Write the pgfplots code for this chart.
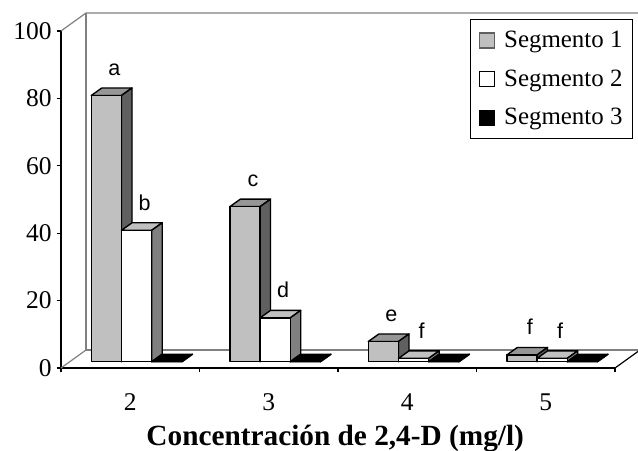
\documentclass[border=0pt]{standalone}
\usepackage{fontspec}
\setmainfont{Liberation Serif}
\newfontfamily\arialf{Liberation Sans}
\usepackage{pgfplots}
\usepackage{pgfplotstable}
\pgfplotsset{compat=1.18}

\definecolor{sAfront}{HTML}{C0C0C0}
\definecolor{sAtop}{HTML}{969696}
\definecolor{sAside}{HTML}{606060}
\definecolor{sBfront}{HTML}{FFFFFF}
\definecolor{sBtop}{HTML}{C0C0C0}
\definecolor{sBside}{HTML}{808080}
\definecolor{wallgray}{HTML}{808080}

\pgfplotstableread{
x  s1 s2 s3 l1 l2
2  79 39 0  a  b
3  46 13 0  c  d
4  6  1  0  e  f
5  2  1  0  f  f
}\datatable

% each bar: front face top sits 3.15bp above the data point (the bars stand
% 1.87 units behind the front plane); the bottom is taken from (zero)
\pgfplotsset{
  bar3d/.style n args={3}{% front, top, side
    only marks, scatter, forget plot,
    mark=*, mark size=0pt, mark options={draw=none,fill=none},
    scatter/@pre marker code/.code={%
      \filldraw[fill=#2,draw=black,line width=0.7bp,line join=round] (-7.55bp,3.15bp) -- (7.55bp,3.15bp) -- (12.8bp,6.9bp) -- (-2.3bp,6.9bp) -- cycle;
      \filldraw[fill=#3,draw=black,line width=0.7bp,line join=round] (7.55bp,3.15bp) -- (7.55bp,0bp |- zero) -- ++(5.25bp,3.75bp) -- (12.8bp,6.9bp) -- cycle;
      \filldraw[fill=#1,draw=black,line width=0.7bp,line join=round] (-7.55bp,0bp |- zero) rectangle (7.55bp,3.15bp);
    },
    scatter/@post marker code/.code={},
  },
  barlabel/.style={
    point meta=explicit symbolic,
    scatter/@post marker code/.code={%
      \node[font=\arialf\fontsize{10.8}{12}\selectfont, anchor=base, inner sep=0pt] at (4bp,13.15bp) {\pgfplotspointmeta};
    },
  },
}

\begin{document}
\begin{tikzpicture}
\begin{axis}[
  scale only axis, width=277bp, height=168.5bp,
  xmin=1.5, xmax=5.5, ymin=0, ymax=100,
  enlargelimits=false, clip=false,
  axis x line*=bottom, axis y line*=left,
  axis line style={-, black, line width=0.6bp},
  xtick={2,3,4,5},
  minor xtick={1.5,2.5,3.5,4.5,5.5},
  major x tick style={draw=none},
  minor x tick style={black, line width=0.6bp},
  ytick={0,20,40,60,80,100},
  ytick style={black, line width=0.6bp},
  tick align=outside,
  major tick length=2.2bp, minor tick length=2.2bp,
  tick label style={font=\fontsize{12.8}{14}\selectfont},
  xticklabel style={yshift=-7bp},
  yticklabel style={xshift=1bp},
  /pgf/number format/assume math mode=true,
  xlabel={Concentración de 2,4-D (mg/l)},
  xlabel style={at={(axis description cs:0.495,-0.23)}, anchor=base, font=\fontsize{14.7}{16}\selectfont\bfseries},
  legend style={at={(axis description cs:0.7377,1.0347)}, anchor=north west, draw=black, line width=0.5bp,
    font=\fontsize{12.5}{14}\selectfont, inner xsep=3bp, inner ysep=3.5bp, row sep=5.65bp},
  legend cell align=left,
]
% back wall and floor
\draw[wallgray, line width=0.6bp] (axis cs:1.5,100) -- (axis cs:1.6805,105.341) -- (axis cs:5.6661,105.341);
\draw[wallgray, line width=0.6bp] (axis cs:1.6805,105.341) -- (axis cs:1.6805,5.341) -- (axis cs:5.6661,5.341);
\draw[wallgray, line width=0.6bp] (axis cs:1.5,0) -- (axis cs:1.6805,5.341);
\draw[black, line width=0.6bp] (axis cs:5.5,0) -- (axis cs:5.6661,4.915);
\coordinate (zero) at (axis cs:2,1.87);
\coordinate (bbA) at (axis cs:1.0596,-24.332);
\coordinate (bbB) at (axis cs:5.6661,109.199);

\addlegendimage{legend image code/.code={\filldraw[fill=sAfront,draw=sAside,line width=0.6bp] (1.5bp,-3.75bp) rectangle (9bp,3.75bp); \path[draw=none,fill=none] (0bp,0bp) (12bp,0bp);}}
\addlegendentry{Segmento 1}
\addlegendimage{legend image code/.code={\filldraw[fill=white,draw=black,line width=0.6bp] (1.5bp,-3.75bp) rectangle (9bp,3.75bp); \path[draw=none,fill=none] (0bp,0bp) (12bp,0bp);}}
\addlegendentry{Segmento 2}
\addlegendimage{legend image code/.code={\filldraw[fill=black,draw=black,line width=0.6bp] (1.5bp,-3.75bp) rectangle (9bp,3.75bp); \path[draw=none,fill=none] (0bp,0bp) (12bp,0bp);}}
\addlegendentry{Segmento 3}

\addplot[bar3d={sAfront}{sAtop}{sAside}, barlabel] table[x expr=\thisrow{x}-0.172, y=s1, meta=l1] {\datatable};
\addplot[bar3d={sBfront}{sBtop}{sBside}, barlabel] table[x expr=\thisrow{x}+0.046, y=s2, meta=l2] {\datatable};
\addplot[bar3d={black}{black}{black}] table[x expr=\thisrow{x}+0.264, y=s3] {\datatable};
\end{axis}
\pgfresetboundingbox
\useasboundingbox (bbA) rectangle (bbB);
\end{tikzpicture}
\end{document}
